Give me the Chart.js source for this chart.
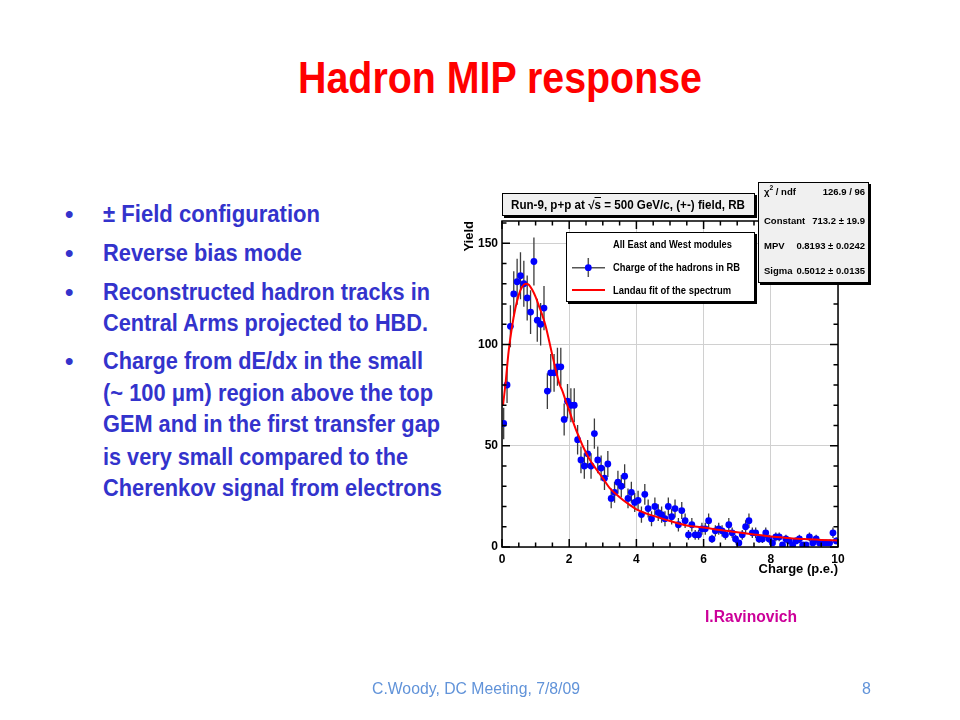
<!DOCTYPE html>
<html><head><meta charset="utf-8">
<script src="https://cdn.jsdelivr.net/npm/chart.js@4.4.0/dist/chart.umd.min.js"></script>
<style>
html,body{margin:0;padding:0;background:#fff;}
body{width:960px;height:720px;position:relative;overflow:hidden;font-family:"Liberation Sans Narrow","Arial Narrow","Liberation Sans",Arial,sans-serif;}
.t{position:absolute;white-space:nowrap;line-height:1;}
.title{font-size:44px;font-weight:bold;color:#ff0000;}
.b{font-size:24px;font-weight:bold;color:#3333cc;}
.foot{font-family:"Liberation Sans",Arial,sans-serif;font-size:16px;color:#6193d9;}
.rav{font-size:16px;font-weight:bold;color:#cc0099;font-family:"Liberation Sans",Arial,sans-serif;}
.box{position:absolute;box-sizing:border-box;border:1px solid #000;box-shadow:2px 2px 0 #000;}
.r{font-family:"Liberation Sans",Arial,sans-serif;font-weight:bold;color:#000;}
.s{font-family:"Liberation Sans",Arial,sans-serif;font-weight:bold;color:#000;font-size:9.5px;}
.sv{right:95px;}
#c{position:absolute;left:440px;top:175px;}
sup{font-size:70%;vertical-align:top;position:relative;top:-2px;}
</style></head>
<body>
<div class="t title" style="left:298px;top:56px" data-w="404">Hadron MIP response</div>

<div class="t b" style="left:65px;top:201.7px">•</div>
<div class="t b" style="left:103px;top:201.7px" data-w="217">± Field configuration</div>
<div class="t b" style="left:65px;top:240.7px">•</div>
<div class="t b" style="left:103px;top:240.7px" data-w="199">Reverse bias mode</div>
<div class="t b" style="left:65px;top:279.7px">•</div>
<div class="t b" style="left:103px;top:279.7px" data-w="327">Reconstructed hadron tracks in</div>
<div class="t b" style="left:103px;top:310.7px" data-w="325">Central Arms projected to HBD.</div>
<div class="t b" style="left:65px;top:348.7px">•</div>
<div class="t b" style="left:103px;top:348.7px" data-w="320">Charge from dE/dx in the small</div>
<div class="t b" style="left:103px;top:380.7px" data-w="330">(~ 100 μm) region above the top</div>
<div class="t b" style="left:103px;top:411.7px" data-w="337">GEM and in the first transfer gap</div>
<div class="t b" style="left:103px;top:444.7px" data-w="305">is very small compared to the</div>
<div class="t b" style="left:103px;top:475.7px" data-w="339">Cherenkov signal from electrons</div>

<canvas id="c" width="440" height="420"></canvas>

<div class="box" style="left:502px;top:193px;width:253px;height:23px;background:#f0f0f0"></div>
<div class="t r" style="left:511px;top:199px;font-size:12px" data-w="234">Run-9, p+p at √<span style="text-decoration:overline">s</span> = 500 GeV/c, (+-) field, RB</div>

<div class="box" style="left:566px;top:232px;width:189px;height:70px;background:#fff"></div>
<div class="t r" style="left:613px;top:238.9px;font-size:11px" data-w="119">All East and West modules</div>
<div class="t r" style="left:613px;top:262.3px;font-size:11px" data-w="127">Charge of the hadrons in RB</div>
<div class="t r" style="left:613px;top:284.6px;font-size:11px" data-w="118">Landau fit of the spectrum</div>
<svg width="960" height="720" style="position:absolute;left:0;top:0;pointer-events:none">
<line x1="572" y1="267.7" x2="605" y2="267.7" stroke="#555" stroke-width="1.5"/>
<line x1="588.3" y1="258" x2="588.3" y2="277" stroke="#555" stroke-width="1.5"/>
<circle cx="588.3" cy="267.7" r="3.4" fill="#0000ff"/>
<line x1="572" y1="290" x2="605" y2="290" stroke="#ff0000" stroke-width="2"/>
</svg>

<div class="box" style="left:758px;top:182px;width:111px;height:101px;background:#f0f0f0"></div>
<div class="t s" style="left:764px;top:187px">χ<sup>2</sup> / ndf</div>
<div class="t s sv" style="top:187px">126.9 / 96</div>
<div class="t s" style="left:764px;top:216px">Constant</div>
<div class="t s sv" style="top:216px">713.2 ± 19.9</div>
<div class="t s" style="left:764px;top:241px">MPV</div>
<div class="t s sv" style="top:241px">0.8193 ± 0.0242</div>
<div class="t s" style="left:764px;top:266.3px">Sigma</div>
<div class="t s sv" style="top:266.3px">0.5012 ± 0.0135</div>

<div class="t rav" style="left:705px;top:609px" data-w="92">I.Ravinovich</div>
<div class="t foot" style="left:372px;top:680.5px" data-w="208">C.Woody, DC Meeting, 7/8/09</div>
<div class="t foot" style="left:862px;top:680.5px">8</div>

<script>
// ---- data ----
const chargeBins = [0.05,0.15,0.25,0.35,0.45,0.55,0.65,0.75,0.85,0.95,
1.05,1.15,1.25,1.35,1.45,1.55,1.65,1.75,1.85,1.95,
2.05,2.15,2.25,2.35,2.45,2.55,2.65,2.75,2.85,2.95,
3.05,3.15,3.25,3.35,3.45,3.55,3.65,3.75,3.85,3.95,
4.05,4.15,4.25,4.35,4.45,4.55,4.65,4.75,4.85,4.95,
5.05,5.15,5.25,5.35,5.45,5.55,5.65,5.75,5.85,5.95,
6.05,6.15,6.25,6.35,6.45,6.55,6.65,6.75,6.85,6.95,
7.05,7.15,7.25,7.35,7.45,7.55,7.65,7.75,7.85,7.95,
8.05,8.15,8.25,8.35,8.45,8.55,8.65,8.75,8.85,8.95,
9.05,9.15,9.25,9.35,9.45,9.55,9.65,9.75,9.85,9.95];
const yieldCounts = [61,80,109,125,131,134,130,123,116,141,
112,110,118,77,86,86,89,89,63,72,
70,70,53,43,40,46,40,56,43,39,
34,41,24,27,32,30,35,24,27,22,
23,16,26,19,14,20,17,16,14,20,
15,19,11,18,13,6,11,6,6,9,
9,13,4,8,9,8,6,11,7,4,
2,6,10,13,7,7,4,4,7,4,
2,5,5,1,4,3,1,3,4,1,
1,5,2,4,2,2,2,2,7,3];
const yieldErrors = [7.8,8.9,10.4,11.2,11.4,11.6,11.4,11.1,10.8,11.9,
10.6,10.5,10.9,8.8,9.3,9.3,9.4,9.4,7.9,8.5,
8.4,8.4,7.3,6.6,6.3,6.8,6.3,7.5,6.6,6.2,
5.8,6.4,4.9,5.2,5.7,5.5,5.9,4.9,5.2,4.7,
4.8,4.0,5.1,4.4,3.7,4.5,4.1,4.0,3.7,4.5,
3.9,4.4,3.3,4.2,3.6,2.4,3.3,2.4,2.4,3.0,
3.0,3.6,2.0,2.8,3.0,2.8,2.4,3.3,2.6,2.0,
1.4,2.4,3.2,3.6,2.6,2.6,2.0,2.0,2.6,2.0,
1.4,2.2,2.2,1.0,2.0,1.7,1.0,1.7,2.0,1.0,
1.0,2.2,1.4,2.0,1.4,1.4,1.4,1.4,2.6,1.7];
const fitCharge = [0.03,0.1,0.2,0.3,0.4,0.5,0.6,0.7,0.8,0.9,1.0,1.1,1.2,1.3,1.4,1.5,1.6,1.7,1.8,1.9,2.0,2.1,2.2,2.3,2.4,2.6,2.8,3.0,3.2,3.4,3.6,3.8,4.0,4.3,4.6,5.0,5.5,6.0,6.5,7.0,7.5,8.0,8.5,9.0,9.5,10.0];
const fitYield  = [70,80,97,109,118,124.5,128.5,130,129.5,127,123.5,119,114.5,109,102,94.5,87.5,81,77,72,67.5,62.5,58,54,50,43.5,38.5,34,29.2,26,23.2,20.8,18.6,16.5,14.9,12.8,10.6,9.6,8.4,7.3,6.2,5.2,4.5,3.9,3.5,3.2];
const xTickLabels = [0,2,4,6,8,10];
const yTickLabels = [0,50,100,150];
const xMinorTicks = [0,0.5,1,1.5,2,2.5,3,3.5,4,4.5,5,5.5,6,6.5,7,7.5,8,8.5,9,9.5,10];
const yMinorTicks = [0,10,20,30,40,50,60,70,80,90,100,110,120,130,140,150,160];

// ---- fit text widths ----
document.querySelectorAll('[data-w]').forEach(el=>{
  const w = el.getBoundingClientRect().width;
  const t = parseFloat(el.dataset.w);
  el.style.transformOrigin = 'left center';
  el.style.transform = 'scaleX(' + (t / w) + ')';
});

const rootStyle = {
  id: 'rootStyle',
  beforeDatasetsDraw(chart) {
    const {ctx, scales: {x, y}} = chart;
    ctx.save();
    ctx.strokeStyle = '#3c3c3c';
    ctx.lineWidth = 1.3;
    ctx.beginPath();
    chargeBins.forEach((c, i) => {
      const px = x.getPixelForValue(c);
      const lo = Math.max(0, yieldCounts[i] - yieldErrors[i]);
      const hi = Math.min(y.max, yieldCounts[i] + yieldErrors[i]);
      ctx.moveTo(px, y.getPixelForValue(lo));
      ctx.lineTo(px, y.getPixelForValue(hi));
    });
    ctx.stroke();
    ctx.restore();
  },
  afterDraw(chart) {
    const {ctx, chartArea: a, scales: {x, y}} = chart;
    ctx.save();
    ctx.strokeStyle = '#000';
    ctx.lineWidth = 1.5;
    ctx.strokeRect(a.left, a.top, a.right - a.left, a.bottom - a.top);
    ctx.beginPath();
    xMinorTicks.forEach(v => {
      const px = x.getPixelForValue(v);
      const L = xTickLabels.includes(v) ? 8 : 4.5;
      ctx.moveTo(px, a.bottom); ctx.lineTo(px, a.bottom - L);
      ctx.moveTo(px, a.top); ctx.lineTo(px, a.top + L);
    });
    yMinorTicks.forEach(v => {
      const py = y.getPixelForValue(v);
      const L = yTickLabels.includes(v) ? 8 : 4.5;
      ctx.moveTo(a.left, py); ctx.lineTo(a.left + L, py);
      ctx.moveTo(a.right, py); ctx.lineTo(a.right - L, py);
    });
    ctx.stroke();
    ctx.restore();
  }
};

new Chart(document.getElementById('c'), {
  data: {
    datasets: [
      {
        type: 'scatter',
        label: 'Charge of the hadrons in RB',
        data: chargeBins.map((c, i) => ({x: c, y: yieldCounts[i]})),
        backgroundColor: '#0000ff',
        borderWidth: 0,
        pointRadius: 3.4,
        order: 1
      },
      {
        type: 'line',
        label: 'Landau fit of the spectrum',
        data: fitCharge.map((c, i) => ({x: c, y: fitYield[i]})),
        borderColor: '#ff0000',
        borderWidth: 2,
        pointRadius: 0,
        fill: false,
        cubicInterpolationMode: 'monotone',
        order: 0
      }
    ]
  },
  options: {
    responsive: false,
    animation: false,
    devicePixelRatio: 1,
    layout: {padding: {left: 20, right: 42, top: 46, bottom: 0}},
    plugins: {legend: {display: false}, tooltip: {enabled: false}},
    scales: {
      x: {
        type: 'linear', min: 0, max: 10,
        afterBuildTicks: s => { s.ticks = xTickLabels.map(v => ({value: v})); },
        afterFit: s => { s.height = 48; },
        ticks: {color: '#000', font: {family: 'Liberation Sans', weight: 'bold', size: 12}, padding: 5, maxRotation: 0, autoSkip: false},
        grid: {color: '#d0d0d0', lineWidth: 1, drawTicks: false},
        border: {display: false},
        title: {display: true, text: 'Charge (p.e.)', align: 'end', color: '#000',
                font: {family: 'Liberation Sans', weight: 'bold', size: 13}, padding: {top: 0, bottom: 18}}
      },
      y: {
        type: 'linear', min: 0, max: 161,
        afterBuildTicks: s => { s.ticks = yTickLabels.map(v => ({value: v})); },
        afterFit: s => { s.width = 42; },
        ticks: {color: '#000', font: {family: 'Liberation Sans', weight: 'bold', size: 12}, padding: 4},
        grid: {color: '#d0d0d0', lineWidth: 1, drawTicks: false},
        border: {display: false},
        title: {display: true, text: 'Yield', align: 'end', color: '#000',
                font: {family: 'Liberation Sans', weight: 'bold', size: 13}, padding: {top: 2, bottom: 0}}
      }
    }
  },
  plugins: [rootStyle]
});
</script>
</body></html>
